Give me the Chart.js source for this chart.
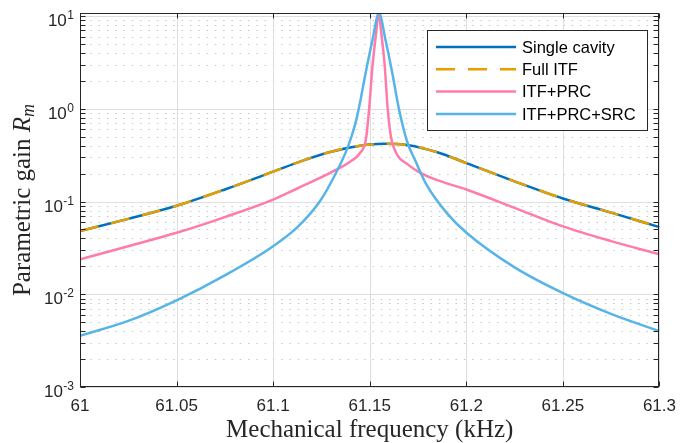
<!DOCTYPE html>
<html><head><meta charset="utf-8">
<script src="https://cdn.jsdelivr.net/npm/chart.js@4/dist/chart.umd.min.js"></script>
<style>html,body{margin:0;padding:0;background:#fff;}canvas{display:block;}</style>
</head><body>
<canvas id="c" width="685" height="443" style="width:685px;height:443px"></canvas>
<script>
// ---- data ----
const xTickValues = [61, 61.05, 61.1, 61.15, 61.2, 61.25, 61.3];
const yTickExponents = [-3, -2, -1, 0, 1];
const seriesLabels = ['Single cavity', 'Full ITF', 'ITF+PRC', 'ITF+PRC+SRC'];
const xAxisTitle = 'Mechanical frequency (kHz)';
const yAxisTitle = 'Parametric gain ';
const yAxisSymbol = 'R';
const yAxisSubscript = 'm';

const freqSingle = [61.000, 61.025, 61.050, 61.075, 61.100, 61.115, 61.130, 61.145, 61.157, 61.170, 61.185, 61.200, 61.225, 61.250, 61.275, 61.300];
const gainSingle = [0.048, 0.065, 0.090, 0.135, 0.21, 0.275, 0.345, 0.400, 0.42, 0.405, 0.34, 0.260, 0.165, 0.108, 0.076, 0.053];

const freqFull = [61.000, 61.025, 61.050, 61.075, 61.100, 61.115, 61.130, 61.145, 61.157, 61.170, 61.185, 61.200, 61.225, 61.250, 61.275, 61.300];
const gainFull = [0.048, 0.065, 0.090, 0.135, 0.21, 0.275, 0.345, 0.400, 0.42, 0.405, 0.34, 0.260, 0.165, 0.108, 0.076, 0.053];

const freqPRC = [61.000, 61.025, 61.050, 61.075, 61.100, 61.113, 61.130, 61.140, 61.145, 61.148, 61.1497, 61.1514, 61.1531, 61.1546, 61.1562, 61.1578, 61.1593, 61.161, 61.1642, 61.1693, 61.176, 61.185, 61.200, 61.225, 61.250, 61.275, 61.300];
const gainPRC = [0.0238, 0.033, 0.046, 0.068, 0.105, 0.140, 0.206, 0.271, 0.334, 0.465, 1.0, 2.85, 6.0, 10.4, 6.0, 2.85, 1.0, 0.5, 0.32, 0.255, 0.205, 0.17, 0.135, 0.0855, 0.054, 0.0374, 0.027];

const freqSRC = [61.000, 61.025, 61.050, 61.075, 61.100, 61.113, 61.1241, 61.1318, 61.1386, 61.1427, 61.1448, 61.1479, 61.1514, 61.1548, 61.1582, 61.1617, 61.1651, 61.1693, 61.1738, 61.1796, 61.1898, 61.2001, 61.2248, 61.2504, 61.2752, 61.300];
const gainSRC = [0.00357, 0.00516, 0.0086, 0.016, 0.033, 0.054, 0.10, 0.19, 0.384, 0.71, 1.12, 2.45, 5.5, 10.8, 5.5, 2.42, 1.0, 0.447, 0.27, 0.149, 0.0755, 0.046, 0.0196, 0.0102, 0.0061, 0.0040];

// ---- styling ----
const AX = '#262626';
const SANS = '"Liberation Sans", Arial, sans-serif';
const SERIF = '"Liberation Serif", "Times New Roman", serif';
const pts = (xs, ys) => xs.map((v, i) => ({x: v, y: ys[i]}));

const decor = {
  id: 'decor',
  beforeDatasetsDraw(chart) {
    const {ctx, chartArea: a, scales: {x, y}} = chart;
    ctx.save();
    ctx.lineWidth = 1;
    ctx.strokeStyle = '#c6c6c6';
    ctx.setLineDash([1.5, 6.8]);
    for (let i = 0; i < yTickExponents.length - 1; i++) {
      for (let m = 2; m <= 9; m++) {
        const py = Math.round(y.getPixelForValue(m * Math.pow(10, yTickExponents[i]))) + 0.5;
        ctx.beginPath(); ctx.moveTo(a.left + 2, py); ctx.lineTo(a.right, py); ctx.stroke();
      }
    }
    ctx.setLineDash([]);
    ctx.strokeStyle = '#dedede';
    yTickExponents.forEach(e => {
      const py = Math.round(y.getPixelForValue(Math.pow(10, e))) + 0.5;
      ctx.beginPath(); ctx.moveTo(a.left, py); ctx.lineTo(a.right, py); ctx.stroke();
    });
    xTickValues.forEach(v => {
      const px = Math.round(x.getPixelForValue(v)) + 0.5;
      ctx.beginPath(); ctx.moveTo(px, a.top); ctx.lineTo(px, a.bottom); ctx.stroke();
    });
    ctx.restore();
  },
  afterDatasetsDraw(chart) {
    const {ctx, chartArea: a, scales: {x, y}} = chart;
    ctx.save();
    const L = Math.round(a.left) + 0.5, R = Math.round(a.right) - 0.5;
    const T = Math.round(a.top) + 0.5, B = Math.round(a.bottom) - 0.5;
    ctx.strokeStyle = AX; ctx.lineWidth = 1;
    ctx.strokeRect(L, T, R - L, B - T);
    const tl = 5;
    xTickValues.forEach(v => {
      const px = Math.round(x.getPixelForValue(v)) + 0.5;
      ctx.beginPath();
      ctx.moveTo(px, B); ctx.lineTo(px, B - tl);
      ctx.moveTo(px, T); ctx.lineTo(px, T + tl);
      ctx.stroke();
    });
    const yTickVals = [];
    yTickExponents.forEach((e, i) => {
      yTickVals.push(Math.pow(10, e));
      if (i < yTickExponents.length - 1) for (let m = 2; m <= 9; m++) yTickVals.push(m * Math.pow(10, e));
    });
    yTickVals.forEach(v => {
      const py = Math.round(y.getPixelForValue(v)) + 0.5;
      ctx.beginPath();
      ctx.moveTo(L, py); ctx.lineTo(L + tl, py);
      ctx.moveTo(R, py); ctx.lineTo(R - tl, py);
      ctx.stroke();
    });
    // y tick labels 10^e
    ctx.fillStyle = AX;
    ctx.textBaseline = 'alphabetic';
    yTickExponents.forEach(e => {
      const py = y.getPixelForValue(Math.pow(10, e));
      const expStr = String(e);
      ctx.font = '12px ' + SANS;
      const ew = ctx.measureText(expStr).width;
      const right = a.left - 6;
      ctx.textAlign = 'left';
      ctx.fillText(expStr, right - ew, py + 3);
      ctx.font = '17px ' + SANS;
      ctx.textAlign = 'right';
      ctx.fillText('10', right - ew - 0.5, py + 10);
    });
    // x title
    ctx.fillStyle = AX;
    ctx.font = '25px ' + SERIF;
    ctx.textAlign = 'center';
    ctx.fillText(xAxisTitle, (a.left + a.right) / 2, 437);
    // y title with italic R_m
    ctx.save();
    ctx.translate(30, (a.top + a.bottom) / 2);
    ctx.rotate(-Math.PI / 2);
    ctx.textAlign = 'left';
    ctx.font = '25px ' + SERIF; const w1 = ctx.measureText(yAxisTitle).width;
    ctx.font = 'italic 25px ' + SERIF; const w2 = ctx.measureText(yAxisSymbol).width;
    ctx.font = 'italic 18px ' + SERIF; const w3 = ctx.measureText(yAxisSubscript).width;
    const s = -(w1 + w2 + w3) / 2;
    ctx.font = '25px ' + SERIF; ctx.fillText(yAxisTitle, s, 0);
    ctx.font = 'italic 25px ' + SERIF; ctx.fillText(yAxisSymbol, s + w1, 0);
    ctx.font = 'italic 18px ' + SERIF; ctx.fillText(yAxisSubscript, s + w1 + w2, 4);
    ctx.restore();
    // legend
    const bx = 427.5, by = 30.5, bw = 220, bh = 100;
    ctx.fillStyle = '#ffffff';
    ctx.fillRect(bx, by, bw, bh);
    ctx.strokeStyle = AX; ctx.lineWidth = 1;
    ctx.strokeRect(bx, by, bw, bh);
    const rowY = [47, 69.3, 91.6, 114];
    chart.data.datasets.forEach((ds, i) => {
      ctx.strokeStyle = ds.borderColor;
      ctx.lineWidth = ds.borderWidth;
      ctx.setLineDash(ds.borderDash || []);
      ctx.beginPath(); ctx.moveTo(436, rowY[i]); ctx.lineTo(516, rowY[i]); ctx.stroke();
      ctx.setLineDash([]);
      ctx.fillStyle = '#000000';
      ctx.font = '16.5px ' + SANS;
      ctx.textAlign = 'left';
      ctx.textBaseline = 'middle';
      ctx.fillText(ds.label, 522, rowY[i] + 1);
    });
    ctx.restore();
  }
};

new Chart(document.getElementById('c'), {
  type: 'line',
  data: {
    datasets: [
      {label: seriesLabels[0], data: pts(freqSingle, gainSingle), borderColor: '#0072BD', borderWidth: 2.5, order: 4},
      {label: seriesLabels[1], data: pts(freqFull, gainFull), borderColor: '#E69F00', borderWidth: 2.5, borderDash: [19, 13], order: 3},
      {label: seriesLabels[2], data: pts(freqPRC, gainPRC), borderColor: '#FF7BAC', borderWidth: 2.5, order: 2},
      {label: seriesLabels[3], data: pts(freqSRC, gainSRC), borderColor: '#56B4E9', borderWidth: 2.5, order: 1}
    ]
  },
  options: {
    responsive: false,
    animation: false,
    events: [],
    layout: {padding: {top: 13, right: 20, left: 0, bottom: 0}},
    elements: {point: {radius: 0}, line: {cubicInterpolationMode: 'monotone', fill: false, borderCapStyle: 'butt'}},
    plugins: {legend: {display: false}, tooltip: {enabled: false}},
    scales: {
      x: {
        type: 'linear', min: 61, max: 61.3,
        grid: {display: false, drawTicks: false},
        border: {display: false},
        afterBuildTicks: s => { s.ticks = xTickValues.map(v => ({value: v})); },
        ticks: {
          autoSkip: false, maxRotation: 0, padding: 9, color: AX,
          font: {family: SANS, size: 17},
          callback: v => String(parseFloat(Number(v).toFixed(2)))
        },
        afterFit: s => { s.height = 56; }
      },
      y: {
        type: 'logarithmic', min: 1e-3, max: 10.8,
        grid: {display: false, drawTicks: false},
        border: {display: false},
        afterBuildTicks: s => { s.ticks = yTickExponents.map(e => ({value: Math.pow(10, e)})); },
        ticks: {display: false},
        afterFit: s => { s.width = 80; }
      }
    }
  },
  plugins: [decor]
});
</script>
</body></html>
